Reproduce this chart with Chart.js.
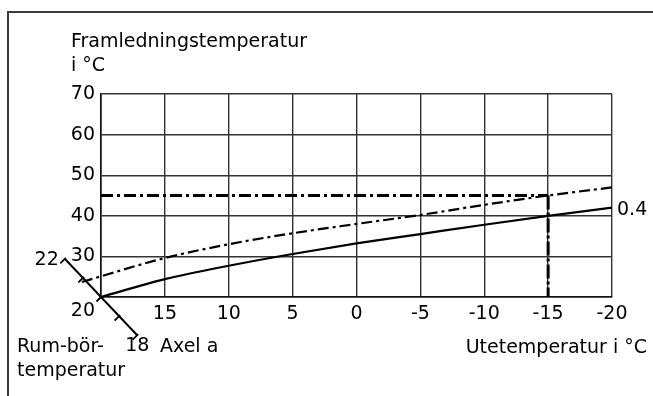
<!DOCTYPE html>
<html lang="sv">
<head>
<meta charset="UTF-8">
<title>Värmekurva</title>
<script src="https://cdn.jsdelivr.net/npm/chart.js"></script>
<style>
  html, body { margin: 0; padding: 0; background: #fff; }
  #wrap { position: relative; width: 653px; height: 396px; }
  #frame { position: absolute; left: 7px; top: 11px; right: 0; bottom: 0;
           border-left: 2px solid #3c3c3c; border-top: 2px solid #3c3c3c; pointer-events: none; }
</style>
</head>
<body>
<div id="wrap">
  <canvas id="curve" width="653" height="396"></canvas>
  <div id="frame"></div>
</div>
<script>
// Outdoor temperature (°C) on the x axis, flow temperature (°C) on the y axis
const outdoorTicks = [20, 15, 10, 5, 0, -5, -10, -15, -20];
const flowTicks = [20, 30, 40, 50, 60, 70];

// Heating curve 0.4, room set temperature 20 °C
const curveOutdoor = [20, 15, 10, 5, 0, -5, -10, -15, -20];
const curveFlow = [20, 24.4, 27.7, 30.6, 33.2, 35.5, 37.8, 40, 42];

// Same curve shifted along axis a (room set temperature raised)
const shiftedOutdoor = [21.5, 15, 10, 5, 0, -5, -10, -15, -20];
const shiftedFlow = [23.7, 29.6, 33.0, 35.7, 38.0, 40.2, 42.7, 45.0, 47.0];

// Design point: -15 °C outdoor gives 45 °C flow
const designOutdoor = -15;
const designFlow = 45;

// Room set temperature scale (axis a)
const roomTemps = [22, 21, 20, 19, 18];
const roomLabels = [22, 20, 18];

const FONT = 'DejaVu Sans';
const pts = (xs, ys) => xs.map((x, i) => ({ x: x, y: ys[i] }));

const roomAxis = {
  id: 'roomAxis',
  afterDraw(chart) {
    const ctx = chart.ctx;
    const xs = chart.scales.x, ys = chart.scales.y;
    const ox = xs.getPixelForValue(20), oy = ys.getPixelForValue(20);
    const step = { x: 18.1, y: 19.1 }; // one degree along axis a
    const at = t => ({ x: ox + (20 - t) * step.x, y: oy + (20 - t) * step.y });

    ctx.save();
    ctx.strokeStyle = '#000';
    ctx.lineWidth = 2;
    const a = at(22), b = at(18);
    ctx.beginPath();
    ctx.moveTo(a.x, a.y);
    ctx.lineTo(b.x, b.y);
    ctx.stroke();
    ctx.lineWidth = 1.8;
    roomTemps.forEach(t => {
      const p = at(t);
      ctx.beginPath();
      ctx.moveTo(p.x + 1, p.y - 1);
      ctx.lineTo(p.x - 4.5, p.y + 4.5);
      ctx.stroke();
    });

    ctx.fillStyle = '#000';
    ctx.font = '19px "' + FONT + '"';
    ctx.textBaseline = 'alphabetic';
    const p22 = at(22), p20 = at(20), p18 = at(18);
    ctx.textAlign = 'right';
    ctx.fillText(String(roomLabels[0]), p22.x - 6, p22.y + 6);
    ctx.fillText(String(roomLabels[1]), p20.x - 6, p20.y + 19);
    ctx.textAlign = 'left';
    ctx.fillText(String(roomLabels[2]), p18.x - 12, p18.y + 16);

    // axis titles and curve label
    ctx.fillText('Framledningstemperatur', 71, 47);
    ctx.fillText('i °C', 71, 71);
    ctx.fillText('Rum-bör-', 17, 352);
    ctx.fillText('temperatur', 17, 376);
    ctx.fillText('Axel a', 160, 352);
    ctx.textAlign = 'right';
    ctx.fillText('Utetemperatur i °C', 647, 353);
    ctx.textAlign = 'left';
    const last = curveOutdoor.length - 1;
    ctx.fillText('0.4', xs.getPixelForValue(curveOutdoor[last]) + 5,
                 ys.getPixelForValue(curveFlow[last]) + 7);
    ctx.restore();
  }
};

const line = (data, width, dash) => ({
  data: data,
  showLine: true,
  borderColor: '#000',
  borderWidth: width,
  borderDash: dash,
  pointRadius: 0,
  fill: false,
  clip: false
});

new Chart(document.getElementById('curve'), {
  type: 'scatter',
  data: {
    datasets: [
      Object.assign(line(pts(curveOutdoor, curveFlow), 2.2, []), { cubicInterpolationMode: 'monotone' }),
      Object.assign(line(pts(shiftedOutdoor, shiftedFlow), 2.2, [11, 4, 3, 4]), { cubicInterpolationMode: 'monotone' }),
      line([{ x: outdoorTicks[0], y: designFlow }, { x: designOutdoor, y: designFlow }], 3, [12, 4, 3, 4]),
      line([{ x: designOutdoor, y: designFlow }, { x: designOutdoor, y: flowTicks[0] }], 3, [14, 3, 3, 3])
    ]
  },
  options: {
    responsive: false,
    animation: false,
    events: [],
    layout: { padding: { left: 0, top: 94, right: 41, bottom: 0 } },
    plugins: { legend: { display: false }, tooltip: { enabled: false } },
    scales: {
      x: {
        type: 'linear',
        reverse: true,
        min: outdoorTicks[outdoorTicks.length - 1],
        max: outdoorTicks[0],
        afterBuildTicks: s => { s.ticks = outdoorTicks.map(v => ({ value: v })); },
        afterFit: s => { s.height = 99; },
        ticks: {
          color: '#000',
          font: { family: FONT, size: 19 },
          padding: 6,
          maxRotation: 0,
          callback: v => (v === outdoorTicks[0] ? '' : String(v))
        },
        grid: { color: '#333', lineWidth: 1.4, drawTicks: false },
        border: { color: '#111', width: 1.6 }
      },
      y: {
        min: flowTicks[0],
        max: flowTicks[flowTicks.length - 1],
        afterBuildTicks: s => { s.ticks = flowTicks.map(v => ({ value: v })); },
        afterFit: s => { s.width = 101; },
        ticks: {
          color: '#000',
          font: { family: FONT, size: 19 },
          padding: 6,
          callback: v => (v === flowTicks[0] ? '' : String(v))
        },
        grid: { color: '#333', lineWidth: 1.4, drawTicks: false },
        border: { color: '#111', width: 1.6 }
      }
    }
  },
  plugins: [roomAxis]
});
</script>
</body>
</html>
